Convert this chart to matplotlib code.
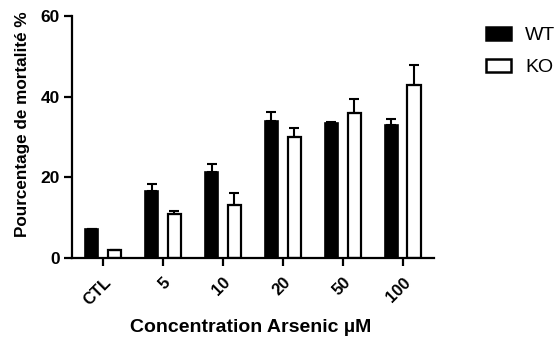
import matplotlib
matplotlib.use("Agg")
import matplotlib.pyplot as plt
import numpy as np

plt.rcParams['font.family'] = ['Liberation Sans', 'DejaVu Sans']

categories = ["CTL", "5", "10", "20", "50", "100"]
wt_values = [7.2, 16.6, 21.4, 34.0, 33.5, 33.0]
wt_err = [0.0, 1.7, 1.8, 2.3, 0.3, 1.5]
ko_values = [2.0, 11.0, 13.1, 30.0, 36.0, 43.0]
ko_err = [0.0, 0.6, 2.9, 2.2, 3.5, 4.8]

fig = plt.figure(figsize=(5.6, 3.43), dpi=100)
ax = fig.add_axes([0.1286, 0.248, 0.646, 0.705])

x = np.arange(len(categories))
w = 0.22
off = 0.19
ax.bar(x - off, wt_values, w, color='black', edgecolor='black', linewidth=1.2, label='WT')
ax.bar(x + off, ko_values, w, color='white', edgecolor='black', linewidth=1.6, label='KO')
ax.errorbar(x - off, wt_values, yerr=[np.zeros(len(x)), wt_err], fmt='none', ecolor='black',
            elinewidth=1.5, capsize=3.5, capthick=1.5)
ax.errorbar(x + off, ko_values, yerr=[np.zeros(len(x)), ko_err], fmt='none', ecolor='black',
            elinewidth=1.5, capsize=3.5, capthick=1.5)

ax.set_xlim(-0.52, 5.52)
ax.set_ylim(0, 60)
ax.set_yticks([0, 20, 40, 60])
ax.set_xticks(x)
ax.set_xticklabels(categories, rotation=45, ha='right', rotation_mode='anchor', fontweight='bold', fontsize=12)
for lab in ax.get_yticklabels():
    lab.set_fontweight('bold')
    lab.set_fontsize(12.5)
ax.spines['top'].set_visible(False)
ax.spines['right'].set_visible(False)
ax.spines['left'].set_linewidth(1.6)
ax.spines['bottom'].set_linewidth(1.6)
ax.tick_params(axis='y', width=1.6, length=6, direction='out', pad=3)
ax.tick_params(axis='x', width=1.6, length=6, direction='out', pad=6)
ax.set_ylabel("Pourcentage de mortalité %", fontweight='bold', fontsize=12.3)
ax.yaxis.set_label_coords(-0.138, 0.554)
ax.set_xlabel("Concentration Arsenic µM", fontweight='bold', fontsize=14)
ax.xaxis.set_label_coords(0.495, -0.289)
ax.xaxis.label.set_va('center')
ax.yaxis.label.set_va('center')

leg = fig.legend(loc='upper left', bbox_to_anchor=(486/560, 1 - 27/343), frameon=False,
                 fontsize=14, handlelength=1.3, handleheight=0.62, handletextpad=0.72,
                 labelspacing=0.76, borderpad=0, borderaxespad=0)
for h in leg.legend_handles:
    h.set_linewidth(1.8)

fig.savefig("out.png", dpi=100)
